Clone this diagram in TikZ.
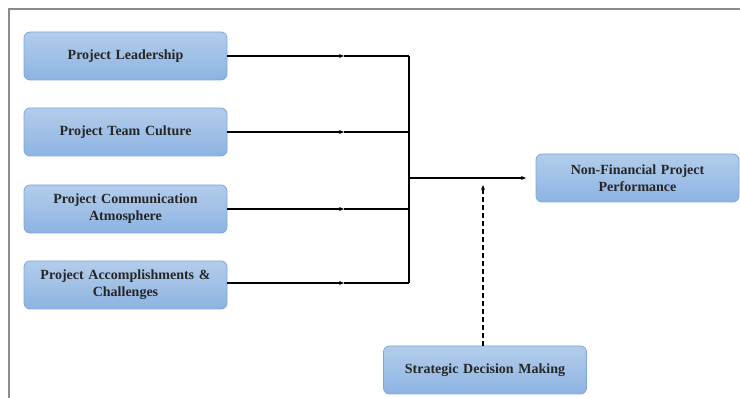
\documentclass[tikz,border=0pt]{standalone}
\usepackage{fontspec}
\setmainfont{Liberation Serif}
\usetikzlibrary{arrows.meta}
\definecolor{boxtop}{HTML}{B3CDEB}
\definecolor{boxbot}{HTML}{8DB3E2}
\definecolor{boxline}{HTML}{7EA6DA}
\definecolor{framegray}{HTML}{8C8C8C}
\tikzset{
  blockbox/.style={draw=boxline, line width=0.8pt, rounded corners=6pt,
    top color=boxtop, bottom color=boxbot, minimum width=203pt, minimum height=48pt,
    align=center, font=\fontsize{14}{17}\selectfont, text=black!85, inner sep=2pt, text width=199pt},
  conn/.style={line width=1.1pt, black},
  tip/.style={-{Stealth[length=5pt,width=4pt]}},
}
\begin{document}
\begin{tikzpicture}[x=1pt,y=-1pt]
\useasboundingbox (0,0) rectangle (740,398);
\draw[framegray, line width=1.2pt] (9,398) -- (9,9) -- (740,9);
\node[blockbox] (pl) at (125.5,56) {\textbf{Project Leadership}};
\node[blockbox] (ptc) at (125.5,132) {\textbf{Project Team Culture}};
\node[blockbox] (pca) at (125.5,209) {\textbf{Project Communication}\\\textbf{Atmosphere}};
\node[blockbox] (pac) at (125.5,285) {\textbf{Project Accomplishments \&}\\\textbf{Challenges}};
\node[blockbox] (nfp) at (637.5,178) {\textbf{Non-Financial Project}\\\textbf{Performance}};
\node[blockbox] (sdm) at (485,370) {\textbf{Strategic Decision Making}};
\coordinate (m1) at (344,56);
\coordinate (m2) at (344,132);
\coordinate (m3) at (344,209);
\coordinate (m4) at (344,283);
\coordinate (j1) at (409,56);
\coordinate (j2) at (409,132);
\coordinate (j3) at (409,209);
\coordinate (j4) at (409,283);
\coordinate (jc) at (409,178);
\coordinate (ja) at (526,178);
\coordinate (dt) at (483,185);
\draw[conn,tip] (pl.east) -- (m1);
\draw[conn] (m1) -- (j1);
\draw[conn,tip] (ptc.east) -- (m2);
\draw[conn] (m2) -- (j2);
\draw[conn,tip] (pca.east |- m3) -- (m3);
\draw[conn] (m3) -- (j3);
\draw[conn,tip] (pac.east |- m4) -- (m4);
\draw[conn] (m4) -- (j4);
\draw[conn] (j1) -- (j4);
\draw[conn,tip] (jc) -- (ja);
\draw[conn,tip,dash pattern=on 5pt off 3pt] (sdm.north -| dt) -- (dt);
\end{tikzpicture}
\end{document}
